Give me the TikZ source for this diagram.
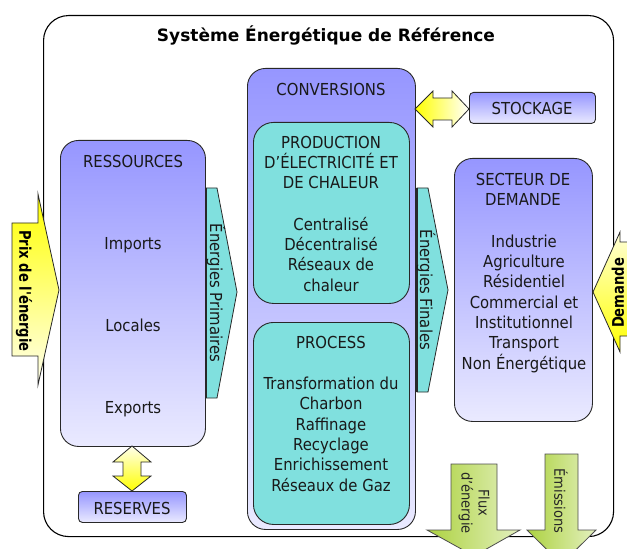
\documentclass[tikz,border=0pt]{standalone}
\usepackage{fontspec}
\setmainfont{DejaVu Sans}[FakeStretch=0.9]
\newfontfamily\titlefont{DejaVu Sans}[FakeStretch=1.0]
\newfontfamily\condbold{DejaVu Sans}[FakeStretch=0.82]
\definecolor{pur}{RGB}{150,150,255}
\definecolor{purl}{RGB}{234,234,255}
\definecolor{turq}{RGB}{128,224,222}
\definecolor{yel}{RGB}{255,255,0}
\definecolor{grn}{RGB}{145,195,0}
\definecolor{edge}{RGB}{40,40,40}
\tikzset{
  frame/.style={draw=black, line width=1.1bp, rounded corners=25bp, inner sep=0},
  pbox/.style={draw=edge, line width=0.9bp, top color=pur, bottom color=purl, inner sep=0, rounded corners=18bp},
  sbox/.style={draw=edge, line width=0.9bp, top color=pur, bottom color=purl, inner sep=0, rounded corners=4bp},
  tbox/.style={draw=edge, line width=0.9bp, fill=turq, rounded corners=20bp, inner sep=0},
  lbl/.style={font=\fontsize{16.5bp}{20.3bp}\selectfont, align=center, inner sep=0, text=black!90},
  small/.style={font=\fontsize{14.5bp}{17bp}\selectfont, align=center, inner sep=0, text=black!85},
  blbl/.style={font=\condbold\bfseries\fontsize{16bp}{19bp}\selectfont, inner sep=0, text=black},
  yarrow/.style={draw=edge, line width=0.8bp, line join=miter},
  tarrow/.style={draw=edge, line width=0.8bp, fill=turq, line join=miter},
  garrow/.style={draw=black!70, line width=0.8bp, line join=miter},
}
\begin{document}
\begin{tikzpicture}[x=1bp,y=-1bp]
\useasboundingbox (0,0) rectangle (627,549);
% outer frame
\node[frame, minimum width=570bp, minimum height=521bp, anchor=north west] (frame) at (43,15) {};
\node[inner sep=0, anchor=base, font=\titlefont\bfseries\fontsize{17bp}{20bp}\selectfont] (title) at (326,42) {Système Énergétique de Référence};

% side arrows (over the frame)
\path[yarrow, top color=yel, bottom color=yel!6]
  (12,223) -- (38,223) -- (38,194) -- (59,290) -- (38,385) -- (38,356) -- (12,356) -- cycle;
\node[blbl, rotate=-90] (prix) at (24,291) {Prix de l'énergie};
\path[yarrow, top color=yel!15, bottom color=yel]
  (640,242) -- (620,242) -- (620,232) -- (593,292) -- (620,352) -- (620,336) -- (640,336) -- cycle;
\node[blbl, rotate=90] (dem) at (618,293) {Demande};

% ressources
\node[pbox, minimum width=145bp, minimum height=306bp, anchor=north west] (res) at (60,140) {};
\node[lbl, anchor=base] (resT) at (133,168) {RESSOURCES};
\node[lbl, anchor=base] (imp) at (133,250) {Imports};
\node[lbl, anchor=base] (loc) at (133,331) {Locales};
\node[lbl, anchor=base] (exp) at (133,413) {Exports};

% reserves
\node[sbox, minimum width=108bp, minimum height=31bp, anchor=north west] (resv) at (78,491) {};
\node[lbl, anchor=base] (resvT) at (132,514) {RESERVES};
\path[yarrow, top color=yel!8, bottom color=yel]
  (132,446) -- (151,462) -- (141,462) -- (141,476) -- (151,476) -- (132,491)
  -- (113,476) -- (123,476) -- (123,462) -- (113,462) -- cycle;

% energies primaires
\path[tarrow] (206,188) -- (217,188) -- (237,292) -- (217,398) -- (206,398) -- cycle;
\draw[edge, line width=1.8bp] (206,188) -- (206,398);
\node[lbl, rotate=-90] (ep) at (216,293) {Énergies Primaires};

% conversions
\node[pbox, minimum width=168bp, minimum height=461bp, anchor=north west] (conv) at (247,68) {};
\node[lbl, anchor=base] (convT) at (331,96) {CONVERSIONS};
\node[tbox, minimum width=156bp, minimum height=181bp, anchor=north west] (prod) at (253,122) {};
\node[lbl, anchor=base] (prodT) at (331,189) {PRODUCTION\\D'ÉLECTRICITÉ ET\\DE CHALEUR};
\node[lbl, anchor=base] (prodL) at (331,291) {Centralisé\\Décentralisé\\Réseaux de\\chaleur};
\node[tbox, minimum width=156bp, minimum height=202bp, anchor=north west] (proc) at (253,322) {};
\node[lbl, anchor=base] (procT) at (331,348) {PROCESS};
\node[lbl, anchor=base] (procL) at (331,491) {Transformation du\\Charbon\\Raffinage\\Recyclage\\Enrichissement\\Réseaux de Gaz};

% stockage
\node[sbox, minimum width=126bp, minimum height=31bp, anchor=north west] (stock) at (469,92) {};
\node[lbl, anchor=base] (stockT) at (532,115) {STOCKAGE};
\path[yarrow, left color=yel, right color=white]
  (415,109) -- (433,91) -- (433,98) -- (452,98) -- (452,91) -- (469,109)
  -- (452,127) -- (452,120) -- (433,120) -- (433,127) -- cycle;

% energies finales
\path[tarrow] (417,188) -- (428,188) -- (448,290) -- (428,392) -- (417,392) -- cycle;
\draw[edge, line width=1.8bp] (417,188) -- (417,392);
\node[lbl, rotate=-90] (ef) at (426,290) {Énergies Finales};

% secteur de demande
\node[pbox, minimum width=138bp, minimum height=263bp, anchor=north west] (sect) at (454,158) {};
\node[lbl, anchor=base] (sectT) at (523,206) {SECTEUR DE\\DEMANDE};
\node[lbl, anchor=base] (sectL) at (524,369) {Industrie\\Agriculture\\Résidentiel\\Commercial et\\Institutionnel\\Transport\\Non Énergétique};

% output arrows
\path[garrow, left color=grn!75, middle color=grn, right color=grn!25]
  (451,464) -- (497,464) -- (497,530) -- (520,530) -- (474,556) -- (427,530) -- (451,530) -- cycle;
\node[small, rotate=-90] (flux) at (474,503) {Flux\\d'énergie};
\path[garrow, left color=grn!75, middle color=grn, right color=grn!25]
  (545,454) -- (578,454) -- (578,530) -- (596,530) -- (561.5,564) -- (527,530) -- (545,530) -- cycle;
\node[small, rotate=-90] (emi) at (561,501) {Émissions};
\end{tikzpicture}
\end{document}
